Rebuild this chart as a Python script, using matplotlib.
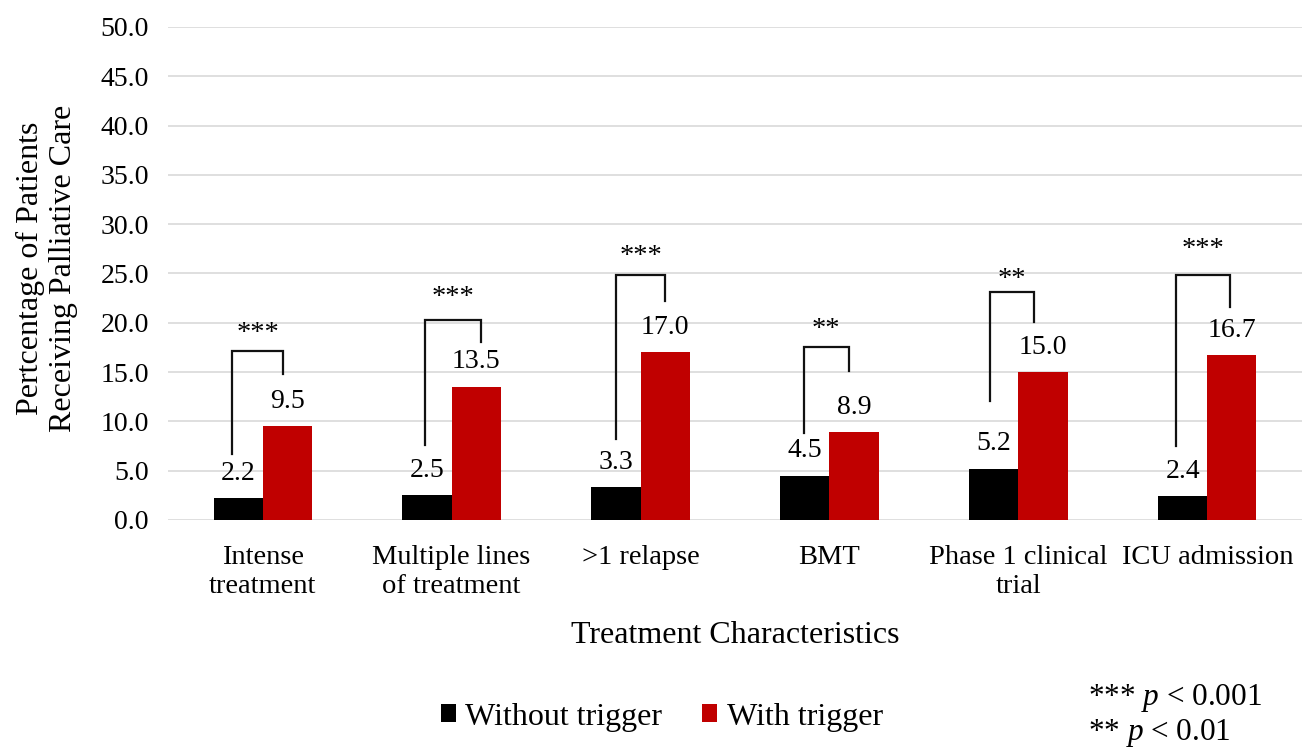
import matplotlib
matplotlib.use("Agg")
import matplotlib.pyplot as plt
from matplotlib.ticker import FormatStrFormatter
import numpy as np

plt.rcParams["font.family"] = ["Liberation Serif", "DejaVu Serif"]
plt.rcParams["mathtext.fontset"] = "custom"
plt.rcParams["mathtext.rm"] = "Liberation Serif"
plt.rcParams["mathtext.it"] = "Liberation Serif:italic"

# ---- data ----
categories = ["Intense\ntreatment", "Multiple lines\nof treatment", ">1 relapse",
              "BMT", "Phase 1 clinical\ntrial", "ICU admission"]
without_trigger = [2.2, 2.5, 3.3, 4.5, 5.2, 2.4]
with_trigger = [9.5, 13.5, 17.0, 8.9, 15.0, 16.7]
significance = ["***", "***", "***", "**", "**", "***"]

# hand drawn significance brackets (y in percent, dx in category units)
bracket_top = [17.1, 20.3, 24.8, 17.5, 23.1, 24.85]
bracket_left_end = [6.7, 7.6, 8.2, 8.8, 12.1, 7.5]
bracket_right_end = [14.8, 18.1, 22.2, 15.1, 20.05, 21.6]
bracket_left_dx = [-0.160, -0.143, -0.129, -0.136, -0.153, -0.166]
bracket_right_dx = [0.107, 0.157, 0.132, 0.102, 0.085, 0.122]
star_y = [19.5, 23.2, 27.3, 19.9, 25.0, 28.0]

black = "#000000"
red = "#c00000"
grid_gray = "#d9d9d9"

fig = plt.figure(figsize=(13.06, 7.47), dpi=100)
ax = fig.add_axes([0.1288, 0.3039, 0.868, 0.66])

x = np.arange(len(categories))
w = 0.26
b1 = ax.bar(x - w / 2, without_trigger, w, color=black, label="Without trigger", zorder=2)
b2 = ax.bar(x + w / 2, with_trigger, w, color=red, label="With trigger", zorder=2)

# value labels
for xi, v in zip(x - w / 2, without_trigger):
    ax.annotate(f"{v:.1f}", (xi, v), xytext=(0, 9), textcoords="offset points",
                ha="center", va="bottom", fontsize=20)
for xi, v in zip(x + w / 2, with_trigger):
    ax.annotate(f"{v:.1f}", (xi, v), xytext=(0, 9), textcoords="offset points",
                ha="center", va="bottom", fontsize=20)

# brackets + stars
for i in range(len(categories)):
    xl = x[i] + bracket_left_dx[i]
    xr = x[i] + bracket_right_dx[i]
    ax.plot([xl, xl, xr, xr],
            [bracket_left_end[i], bracket_top[i], bracket_top[i], bracket_right_end[i]],
            color="#111111", lw=1.6, solid_joinstyle="miter", zorder=3)
    ax.annotate(significance[i], ((xl + xr) / 2, star_y[i]), xytext=(0, -9),
                textcoords="offset points", ha="center", va="baseline", fontsize=20.5)

ax.set_xlim(-0.5, len(categories) - 0.5)
ax.set_ylim(0, 50)
ax.set_yticks(np.arange(0, 51, 5))
ax.yaxis.set_major_formatter(FormatStrFormatter("%.1f"))
ax.set_xticks(x)
ax.set_xticklabels(categories, fontsize=20.5)
ax.tick_params(axis="y", length=0, labelsize=20, pad=14)
ax.tick_params(axis="x", length=0, pad=18)
ax.yaxis.grid(True, color=grid_gray, lw=1.2, zorder=0)
ax.set_axisbelow(True)
for s in ax.spines.values():
    s.set_visible(False)

fig.text(47 / 1306, 1 - 268 / 747, "Pertcentage of Patients\nReceiving Palliative Care",
         rotation=90, ha="center", va="center", fontsize=23)
fig.text(735 / 1306, 1 - 643 / 747, "Treatment Characteristics",
         ha="center", va="baseline", fontsize=23)

fig.legend(handles=[b1, b2], loc="center", bbox_to_anchor=(661.7 / 1306, 1 - 717 / 747),
           ncol=2, frameon=False, fontsize=23, handlelength=0.47, handleheight=0.47,
           handletextpad=0.3, columnspacing=1.25, borderpad=0, borderaxespad=0)

fig.text(1088 / 1306, 1 - 705 / 747, r"*** $p$ < 0.001", ha="left", va="baseline", fontsize=22.5)
fig.text(1088 / 1306, 1 - 740 / 747, r"** $p$ < 0.01", ha="left", va="baseline", fontsize=22.5)

fig.savefig("out.png", dpi=100)
